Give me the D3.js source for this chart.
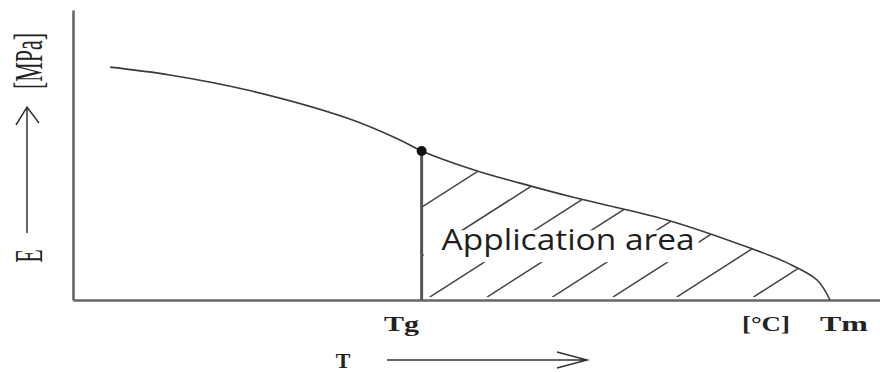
<!DOCTYPE html>
<html>
<head>
<meta charset="utf-8">
<script src="https://cdn.jsdelivr.net/npm/d3@7"></script>
<style>
  html, body { margin: 0; padding: 0; background: #fff; }
  svg { display: block; }
</style>
</head>
<body>
<svg id="chart" width="880" height="372"></svg>
<script>
// modulus curve (T and E in 0..100 plot units)
var curveT = [4.6, 12.0, 21.6, 34.3, 40.5, 43.2, 50.1, 55.4, 62.0, 73.6, 83.9, 88.5, 92.2, 93.8];
var curveE = [80.3, 77.6, 72.4, 62.4, 55.2, 51.4, 44.5, 40.3, 35.4, 27.6, 17.9, 12.8, 6.9, 0];
var tg = 43.2, tm = 93.8;
// where each hatch stroke meets the bottom of the shaded area
var hatchT = [25.8, 35.3, 44.2, 51.3, 59.4, 66.9, 74.8, 84.3];
var xLabels = ['Tg', '[°C]', 'Tm'];

var svg = d3.select('#chart');
var x = d3.scaleLinear().domain([0, 100]).range([73, 880]);
var y = d3.scaleLinear().domain([0, 100]).range([300, 10]);

var pts = curveT.map(function(t, i){ return {t: t, e: curveE[i]}; });
var smooth = d3.curveCatmullRom.alpha(0.5);

// axes, no ticks: just the two lines
svg.append('g').attr('transform', 'translate(0,' + y(0) + ')')
  .call(d3.axisBottom(x).tickValues([]).tickSizeOuter(0));
svg.append('g').attr('transform', 'translate(' + x(0) + ',0)')
  .call(d3.axisLeft(y).tickValues([]).tickSizeOuter(0));
svg.selectAll('.domain').attr('stroke', '#666').attr('stroke-width', 2.6);

// clip for the hatch: area under curve right of Tg
var appPts = pts.filter(function(d){ return d.t >= tg; });
var area = d3.area()
  .x(function(d){ return x(d.t); })
  .y0(y(1))
  .y1(function(d){ return y(d.e); })
  .curve(smooth);
svg.append('clipPath').attr('id', 'appClip')
  .append('path').attr('d', area(appPts));

var slope = 0.64;
var hatch = svg.append('g').attr('clip-path', 'url(#appClip)');
hatch.selectAll('line')
  .data(hatchT)
  .enter().append('line')
    .attr('x1', function(t){ return x(t); })
    .attr('y1', y(1))
    .attr('x2', function(t){ return x(t) + 300; })
    .attr('y2', y(1) - 300 * slope)
    .attr('stroke', '#444')
    .attr('stroke-width', 1.5);

// label inside the area, with a blank band behind it
var fs = 29, base = 250;
var gapRect = svg.append('rect').attr('fill', '#fff');
var appText = svg.append('text')
  .attr('x', x(tg) + 20)
  .attr('y', base)
  .attr('font-family', '"Open Sans", sans-serif')
  .attr('font-size', fs)
  .attr('fill', '#1e1e1e')
  .attr('textLength', 253)
  .attr('lengthAdjust', 'spacingAndGlyphs')
  .text('Application area');
var bb = appText.node().getBBox();
gapRect.attr('x', x(tg) + 2).attr('y', base - 0.68 * fs)
  .attr('width', bb.x + bb.width + 4 - x(tg) - 2).attr('height', 1.1 * fs);

// the curve
var line = d3.line()
  .x(function(d){ return x(d.t); })
  .y(function(d){ return y(d.e); })
  .curve(smooth);
svg.append('path').attr('d', line(pts))
  .attr('fill', 'none').attr('stroke', '#3a3a3a').attr('stroke-width', 1.6);

// Tg drop line and marker
var eTg = curveE[curveT.indexOf(tg)];
svg.append('line')
  .attr('x1', x(tg)).attr('x2', x(tg))
  .attr('y1', y(eTg)).attr('y2', y(0))
  .attr('stroke', '#555').attr('stroke-width', 3);
svg.append('circle')
  .attr('cx', x(tg)).attr('cy', y(eTg)).attr('r', 5)
  .attr('fill', '#111');

// x labels
var serif = '"Liberation Serif", "Times New Roman", serif';
var xLabPos = [x(tg) - 20, x(tm) - 64, x(tm) + 14];
var xLabLen = [35, 48, 48];
svg.selectAll('.xlab')
  .data(xLabels)
  .enter().append('text')
    .attr('class', 'xlab')
    .attr('x', function(d, i){ return xLabPos[i] - xLabLen[i] / 2; })
    .attr('y', 331)
    .attr('font-family', serif)
    .attr('font-weight', 'bold')
    .attr('font-size', 21)
    .attr('fill', '#222')
    .attr('textLength', function(d, i){ return xLabLen[i]; })
    .attr('lengthAdjust', 'spacingAndGlyphs')
    .text(function(d){ return d; });

// T --> arrow under the axis
svg.append('text')
  .attr('x', 343).attr('y', 368)
  .attr('text-anchor', 'middle')
  .attr('font-family', serif).attr('font-weight', 'bold')
  .attr('font-size', 22).attr('fill', '#222')
  .text('T');
svg.append('path')
  .attr('d', 'M387,360H587M557,352L587,360L557,368')
  .attr('fill', 'none').attr('stroke', '#333').attr('stroke-width', 1.5);

// E --> [MPa] up the left side
svg.append('path')
  .attr('d', 'M27,233V107M16,125L27,107L39,123')
  .attr('fill', 'none').attr('stroke', '#333').attr('stroke-width', 1.5);
[['E', 256], ['[MPa]', 61]].forEach(function(lab){
  svg.append('text')
    .attr('transform', 'translate(29,' + lab[1] + ') rotate(-90) scale(1,1.8)')
    .attr('text-anchor', 'middle')
    .attr('dy', '0.33em')
    .attr('font-family', serif)
    .attr('font-size', 22)
    .attr('fill', '#222')
    .text(lab[0]);
});
</script>
</body>
</html>
